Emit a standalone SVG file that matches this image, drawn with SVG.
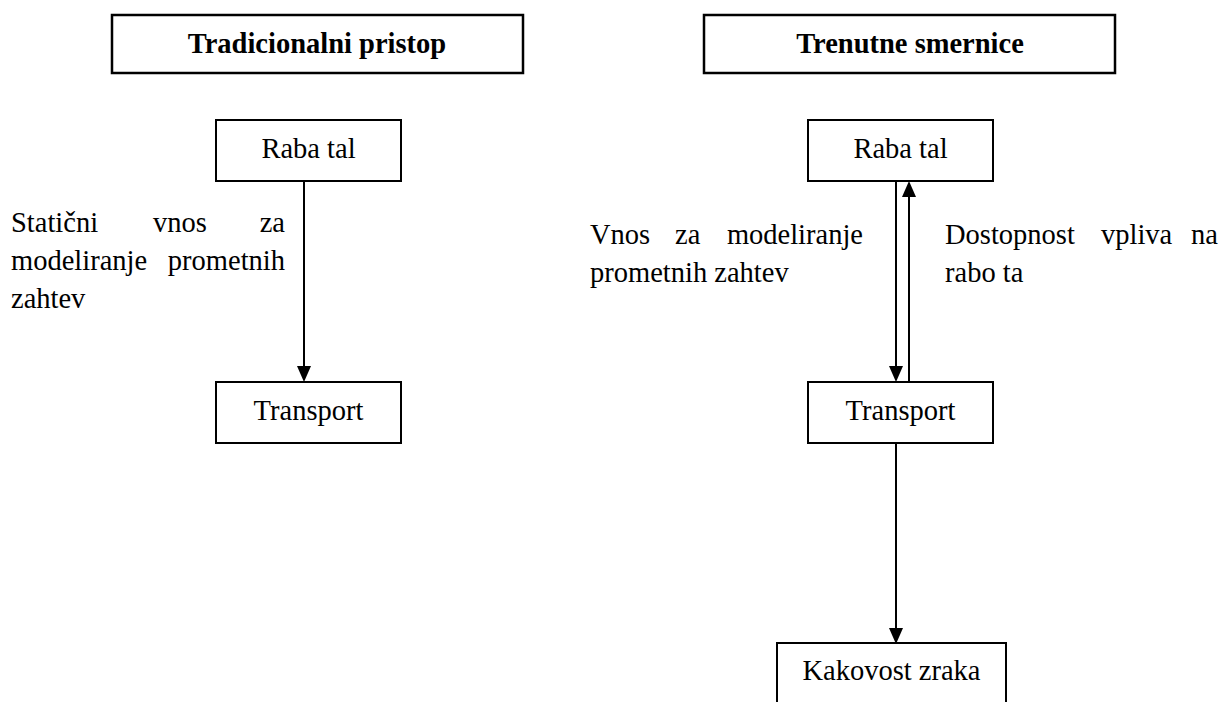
<svg xmlns="http://www.w3.org/2000/svg" width="1223" height="702" viewBox="0 0 1223 702">
  <style>
    .box { fill: #ffffff; stroke: #000000; stroke-width: 2; }
    .hbox { fill: #ffffff; stroke: #000000; stroke-width: 2.5; }
    .t { font-family: "Liberation Serif", "Times New Roman", serif; font-size: 28.5px; fill: #000000; }
    .h { font-family: "Liberation Serif", "Times New Roman", serif; font-size: 28.5px; font-weight: bold; fill: #000000; }
    .c { text-anchor: middle; }
    .e { text-anchor: end; }
    .link { stroke: #000000; stroke-width: 2; fill: none; marker-end: url(#arrow); }
  </style>
  <defs>
    <marker id="arrow" markerUnits="userSpaceOnUse" markerWidth="16" markerHeight="14" refX="8" refY="7" orient="auto">
      <path d="M0,0 L16,7 L0,14 z" fill="#000000"/>
    </marker>
  </defs>
  <rect width="1223" height="702" fill="#ffffff"/>

  <!-- column headings -->
  <g id="head-traditional">
    <rect class="hbox" x="112" y="15" width="411" height="58"/>
    <text class="h c" x="317" y="53">Tradicionalni pristop</text>
  </g>
  <g id="head-current">
    <rect class="hbox" x="704" y="15" width="411" height="58"/>
    <text class="h c" x="910" y="53">Trenutne smernice</text>
  </g>

  <!-- left column -->
  <g id="left-land-use">
    <rect class="box" x="216" y="120" width="185" height="61"/>
    <text class="t c" x="308.5" y="158">Raba tal</text>
  </g>
  <g id="left-transport">
    <rect class="box" x="216" y="382" width="185" height="61"/>
    <text class="t c" x="308.5" y="420">Transport</text>
  </g>

  <!-- right column -->
  <g id="right-land-use">
    <rect class="box" x="808" y="120" width="185" height="61"/>
    <text class="t c" x="900.5" y="158">Raba tal</text>
  </g>
  <g id="right-transport">
    <rect class="box" x="808" y="382" width="185" height="61"/>
    <text class="t c" x="900.5" y="420">Transport</text>
  </g>
  <g id="air-quality">
    <rect class="box" x="777" y="643" width="229" height="80"/>
    <text class="t c" x="891.5" y="680">Kakovost zraka</text>
  </g>

  <!-- connectors -->
  <g id="connectors">
    <line class="link" x1="304" y1="181" x2="304" y2="374"/>
    <line class="link" x1="896" y1="181" x2="896" y2="374"/>
    <line class="link" x1="909" y1="382" x2="909" y2="189"/>
    <line class="link" x1="896" y1="443" x2="896" y2="636"/>
  </g>

  <!-- connector labels -->
  <g id="label-static-input">
    <text class="t" x="11" y="232">Statični</text>
    <text class="t" x="153" y="232">vnos</text>
    <text class="t e" x="285" y="232">za</text>
    <text class="t" x="11" y="270">modeliranje</text>
    <text class="t e" x="285" y="270">prometnih</text>
    <text class="t" x="11" y="308">zahtev</text>
  </g>
  <g id="label-input">
    <text class="t" x="590" y="244">Vnos</text>
    <text class="t" x="675" y="244">za</text>
    <text class="t e" x="863" y="244">modeliranje</text>
    <text class="t" x="590" y="282">prometnih zahtev</text>
  </g>
  <g id="label-accessibility">
    <text class="t" x="945" y="244">Dostopnost</text>
    <text class="t" x="1101" y="244">vpliva</text>
    <text class="t e" x="1218" y="244">na</text>
    <text class="t" x="945" y="282">rabo ta</text>
  </g>
</svg>
